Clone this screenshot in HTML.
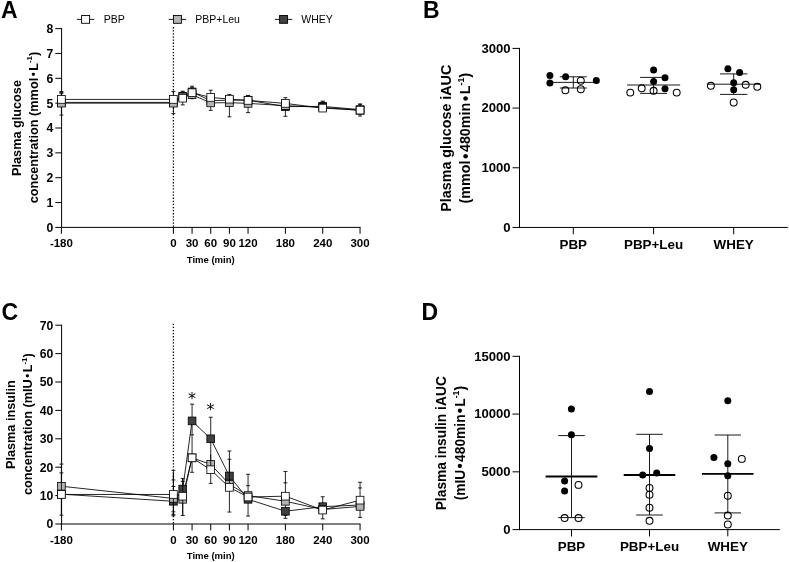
<!DOCTYPE html>
<html lang="en">
<head>
<meta charset="utf-8">
<title>Plasma glucose and insulin</title>
<style>
html,body{margin:0;padding:0;background:#fff;}
body{width:789px;height:562px;overflow:hidden;}
svg{display:block;font-family:"Liberation Sans", Arial, Helvetica, sans-serif;fill:#000;will-change:transform;}
</style>
</head>
<body>
<svg width="789" height="562" viewBox="0 0 789 562">
<rect x="0" y="0" width="789" height="562" fill="#fff"/>
<line x1="61.60" y1="28.10" x2="61.60" y2="227.90" stroke="#000" stroke-width="1.0" />
<line x1="61.10" y1="227.40" x2="360.56" y2="227.40" stroke="#000" stroke-width="1.0" />
<line x1="55.30" y1="227.40" x2="61.60" y2="227.40" stroke="#000" stroke-width="1.0" />
<text x="53.30" y="231.80" font-size="12.2" font-weight="bold" text-anchor="end" >0</text>
<line x1="55.30" y1="202.55" x2="61.60" y2="202.55" stroke="#000" stroke-width="1.0" />
<text x="53.30" y="206.95" font-size="12.2" font-weight="bold" text-anchor="end" >1</text>
<line x1="55.30" y1="177.70" x2="61.60" y2="177.70" stroke="#000" stroke-width="1.0" />
<text x="53.30" y="182.10" font-size="12.2" font-weight="bold" text-anchor="end" >2</text>
<line x1="55.30" y1="152.85" x2="61.60" y2="152.85" stroke="#000" stroke-width="1.0" />
<text x="53.30" y="157.25" font-size="12.2" font-weight="bold" text-anchor="end" >3</text>
<line x1="55.30" y1="128.00" x2="61.60" y2="128.00" stroke="#000" stroke-width="1.0" />
<text x="53.30" y="132.40" font-size="12.2" font-weight="bold" text-anchor="end" >4</text>
<line x1="55.30" y1="103.15" x2="61.60" y2="103.15" stroke="#000" stroke-width="1.0" />
<text x="53.30" y="107.55" font-size="12.2" font-weight="bold" text-anchor="end" >5</text>
<line x1="55.30" y1="78.30" x2="61.60" y2="78.30" stroke="#000" stroke-width="1.0" />
<text x="53.30" y="82.70" font-size="12.2" font-weight="bold" text-anchor="end" >6</text>
<line x1="55.30" y1="53.45" x2="61.60" y2="53.45" stroke="#000" stroke-width="1.0" />
<text x="53.30" y="57.85" font-size="12.2" font-weight="bold" text-anchor="end" >7</text>
<line x1="55.30" y1="28.60" x2="61.60" y2="28.60" stroke="#000" stroke-width="1.0" />
<text x="53.30" y="33.00" font-size="12.2" font-weight="bold" text-anchor="end" >8</text>
<line x1="61.40" y1="227.40" x2="61.40" y2="233.80" stroke="#000" stroke-width="1.0" />
<text x="61.40" y="247.00" font-size="11.5" font-weight="bold" text-anchor="middle" >-180</text>
<line x1="173.40" y1="227.40" x2="173.40" y2="233.80" stroke="#000" stroke-width="1.0" />
<text x="173.40" y="247.00" font-size="11.5" font-weight="bold" text-anchor="middle" >0</text>
<line x1="192.07" y1="227.40" x2="192.07" y2="233.80" stroke="#000" stroke-width="1.0" />
<text x="192.07" y="247.00" font-size="11.5" font-weight="bold" text-anchor="middle" >30</text>
<line x1="210.73" y1="227.40" x2="210.73" y2="233.80" stroke="#000" stroke-width="1.0" />
<text x="210.73" y="247.00" font-size="11.5" font-weight="bold" text-anchor="middle" >60</text>
<line x1="229.40" y1="227.40" x2="229.40" y2="233.80" stroke="#000" stroke-width="1.0" />
<text x="229.40" y="247.00" font-size="11.5" font-weight="bold" text-anchor="middle" >90</text>
<line x1="248.06" y1="227.40" x2="248.06" y2="233.80" stroke="#000" stroke-width="1.0" />
<text x="248.06" y="247.00" font-size="11.5" font-weight="bold" text-anchor="middle" >120</text>
<line x1="285.40" y1="227.40" x2="285.40" y2="233.80" stroke="#000" stroke-width="1.0" />
<text x="285.40" y="247.00" font-size="11.5" font-weight="bold" text-anchor="middle" >180</text>
<line x1="322.73" y1="227.40" x2="322.73" y2="233.80" stroke="#000" stroke-width="1.0" />
<text x="322.73" y="247.00" font-size="11.5" font-weight="bold" text-anchor="middle" >240</text>
<line x1="360.06" y1="227.40" x2="360.06" y2="233.80" stroke="#000" stroke-width="1.0" />
<text x="360.06" y="247.00" font-size="11.5" font-weight="bold" text-anchor="middle" >300</text>
<text x="210.70" y="262.50" font-size="9.5" font-weight="bold" text-anchor="middle" >Time (min)</text>
<line x1="173.40" y1="27.10" x2="173.40" y2="227.40" stroke="#000" stroke-width="1.3" stroke-dasharray="1.3 1.8"/>
<text transform="translate(21.00,128.00) rotate(-90)" font-size="12.7" font-weight="bold" text-anchor="middle">Plasma glucose</text>
<text transform="translate(37.60,127.50) rotate(-90)" font-size="12.7" font-weight="bold" text-anchor="middle">concentration (mmol<tspan font-size="11.43" dx="1.5" dy="-0.47">•</tspan><tspan dx="1.5" dy="0.47">L</tspan><tspan font-size="8" dy="-5.12">-1</tspan><tspan dy="5.12">)</tspan></text>
<line x1="61.40" y1="91.47" x2="61.40" y2="115.08" stroke="#000" stroke-width="0.85" />
<line x1="59.40" y1="115.08" x2="63.40" y2="115.08" stroke="#000" stroke-width="0.85" />
<line x1="59.40" y1="91.47" x2="63.40" y2="91.47" stroke="#000" stroke-width="0.85" />
<line x1="59.40" y1="92.46" x2="63.40" y2="92.46" stroke="#000" stroke-width="0.85" />
<line x1="59.40" y1="93.71" x2="63.40" y2="93.71" stroke="#000" stroke-width="0.85" />
<line x1="173.40" y1="91.47" x2="173.40" y2="113.59" stroke="#000" stroke-width="0.85" />
<line x1="171.40" y1="113.59" x2="175.40" y2="113.59" stroke="#000" stroke-width="0.85" />
<line x1="171.40" y1="91.47" x2="175.40" y2="91.47" stroke="#000" stroke-width="0.85" />
<line x1="182.73" y1="91.22" x2="182.73" y2="104.89" stroke="#000" stroke-width="0.85" />
<line x1="180.73" y1="104.89" x2="184.73" y2="104.89" stroke="#000" stroke-width="0.85" />
<line x1="180.73" y1="91.22" x2="184.73" y2="91.22" stroke="#000" stroke-width="0.85" />
<line x1="180.73" y1="91.97" x2="184.73" y2="91.97" stroke="#000" stroke-width="0.85" />
<line x1="192.07" y1="86.25" x2="192.07" y2="98.68" stroke="#000" stroke-width="0.85" />
<line x1="190.07" y1="98.68" x2="194.07" y2="98.68" stroke="#000" stroke-width="0.85" />
<line x1="190.07" y1="86.25" x2="194.07" y2="86.25" stroke="#000" stroke-width="0.85" />
<line x1="190.07" y1="87.74" x2="194.07" y2="87.74" stroke="#000" stroke-width="0.85" />
<line x1="210.73" y1="90.23" x2="210.73" y2="110.36" stroke="#000" stroke-width="0.85" />
<line x1="208.73" y1="110.36" x2="212.73" y2="110.36" stroke="#000" stroke-width="0.85" />
<line x1="208.73" y1="90.23" x2="212.73" y2="90.23" stroke="#000" stroke-width="0.85" />
<line x1="229.40" y1="94.45" x2="229.40" y2="116.82" stroke="#000" stroke-width="0.85" />
<line x1="227.40" y1="116.82" x2="231.40" y2="116.82" stroke="#000" stroke-width="0.85" />
<line x1="227.40" y1="94.45" x2="231.40" y2="94.45" stroke="#000" stroke-width="0.85" />
<line x1="248.06" y1="95.45" x2="248.06" y2="112.59" stroke="#000" stroke-width="0.85" />
<line x1="246.06" y1="112.59" x2="250.06" y2="112.59" stroke="#000" stroke-width="0.85" />
<line x1="246.06" y1="95.45" x2="250.06" y2="95.45" stroke="#000" stroke-width="0.85" />
<line x1="246.06" y1="95.94" x2="250.06" y2="95.94" stroke="#000" stroke-width="0.85" />
<line x1="285.40" y1="97.68" x2="285.40" y2="116.32" stroke="#000" stroke-width="0.85" />
<line x1="283.40" y1="116.32" x2="287.40" y2="116.32" stroke="#000" stroke-width="0.85" />
<line x1="283.40" y1="97.68" x2="287.40" y2="97.68" stroke="#000" stroke-width="0.85" />
<line x1="322.73" y1="101.16" x2="322.73" y2="109.36" stroke="#000" stroke-width="0.85" />
<line x1="320.73" y1="101.16" x2="324.73" y2="101.16" stroke="#000" stroke-width="0.85" />
<line x1="320.73" y1="101.91" x2="324.73" y2="101.91" stroke="#000" stroke-width="0.85" />
<line x1="360.06" y1="103.90" x2="360.06" y2="116.07" stroke="#000" stroke-width="0.85" />
<line x1="358.06" y1="116.07" x2="362.06" y2="116.07" stroke="#000" stroke-width="0.85" />
<line x1="358.06" y1="103.90" x2="362.06" y2="103.90" stroke="#000" stroke-width="0.85" />
<line x1="358.06" y1="104.64" x2="362.06" y2="104.64" stroke="#000" stroke-width="0.85" />
<polyline points="61.40,102.40 173.40,102.40 182.73,96.44 192.07,91.97 210.73,100.67 229.40,100.17 248.06,100.17 285.40,106.63 322.73,106.38 360.06,109.61" fill="none" stroke="#000" stroke-width="0.85"/>
<polyline points="61.40,103.15 173.40,103.15 182.73,96.94 192.07,94.70 210.73,102.90 229.40,102.65 248.06,103.40 285.40,105.63 322.73,107.37 360.06,110.36" fill="none" stroke="#000" stroke-width="0.85"/>
<polyline points="61.40,99.42 173.40,99.42 182.73,98.18 192.07,92.71 210.73,97.43 229.40,99.17 248.06,100.42 285.40,103.40 322.73,108.12 360.06,110.11" fill="none" stroke="#000" stroke-width="0.85"/>
<rect x="57.55" y="98.55" width="7.7" height="7.7" fill="#404040" stroke="#000" stroke-width="0.8"/>
<rect x="169.55" y="98.55" width="7.7" height="7.7" fill="#404040" stroke="#000" stroke-width="0.8"/>
<rect x="178.88" y="92.59" width="7.7" height="7.7" fill="#404040" stroke="#000" stroke-width="0.8"/>
<rect x="188.22" y="88.12" width="7.7" height="7.7" fill="#404040" stroke="#000" stroke-width="0.8"/>
<rect x="206.88" y="96.82" width="7.7" height="7.7" fill="#404040" stroke="#000" stroke-width="0.8"/>
<rect x="225.55" y="96.32" width="7.7" height="7.7" fill="#404040" stroke="#000" stroke-width="0.8"/>
<rect x="244.21" y="96.32" width="7.7" height="7.7" fill="#404040" stroke="#000" stroke-width="0.8"/>
<rect x="281.55" y="102.78" width="7.7" height="7.7" fill="#404040" stroke="#000" stroke-width="0.8"/>
<rect x="318.88" y="102.53" width="7.7" height="7.7" fill="#404040" stroke="#000" stroke-width="0.8"/>
<rect x="356.21" y="105.76" width="7.7" height="7.7" fill="#404040" stroke="#000" stroke-width="0.8"/>
<rect x="57.55" y="99.30" width="7.7" height="7.7" fill="#b4b4b4" stroke="#000" stroke-width="0.8"/>
<rect x="169.55" y="99.30" width="7.7" height="7.7" fill="#b4b4b4" stroke="#000" stroke-width="0.8"/>
<rect x="178.88" y="93.09" width="7.7" height="7.7" fill="#b4b4b4" stroke="#000" stroke-width="0.8"/>
<rect x="188.22" y="90.85" width="7.7" height="7.7" fill="#b4b4b4" stroke="#000" stroke-width="0.8"/>
<rect x="206.88" y="99.05" width="7.7" height="7.7" fill="#b4b4b4" stroke="#000" stroke-width="0.8"/>
<rect x="225.55" y="98.80" width="7.7" height="7.7" fill="#b4b4b4" stroke="#000" stroke-width="0.8"/>
<rect x="244.21" y="99.55" width="7.7" height="7.7" fill="#b4b4b4" stroke="#000" stroke-width="0.8"/>
<rect x="281.55" y="101.78" width="7.7" height="7.7" fill="#b4b4b4" stroke="#000" stroke-width="0.8"/>
<rect x="318.88" y="103.52" width="7.7" height="7.7" fill="#b4b4b4" stroke="#000" stroke-width="0.8"/>
<rect x="356.21" y="106.51" width="7.7" height="7.7" fill="#b4b4b4" stroke="#000" stroke-width="0.8"/>
<rect x="57.55" y="95.57" width="7.7" height="7.7" fill="#fff" stroke="#000" stroke-width="0.8"/>
<rect x="169.55" y="95.57" width="7.7" height="7.7" fill="#fff" stroke="#000" stroke-width="0.8"/>
<rect x="178.88" y="94.33" width="7.7" height="7.7" fill="#fff" stroke="#000" stroke-width="0.8"/>
<rect x="188.22" y="88.86" width="7.7" height="7.7" fill="#fff" stroke="#000" stroke-width="0.8"/>
<rect x="206.88" y="93.58" width="7.7" height="7.7" fill="#fff" stroke="#000" stroke-width="0.8"/>
<rect x="225.55" y="95.32" width="7.7" height="7.7" fill="#fff" stroke="#000" stroke-width="0.8"/>
<rect x="244.21" y="96.57" width="7.7" height="7.7" fill="#fff" stroke="#000" stroke-width="0.8"/>
<rect x="281.55" y="99.55" width="7.7" height="7.7" fill="#fff" stroke="#000" stroke-width="0.8"/>
<rect x="318.88" y="104.27" width="7.7" height="7.7" fill="#fff" stroke="#000" stroke-width="0.8"/>
<rect x="356.21" y="106.26" width="7.7" height="7.7" fill="#fff" stroke="#000" stroke-width="0.8"/>
<text x="1.00" y="18.10" font-size="23" font-weight="bold" text-anchor="start" >A</text>
<line x1="76.90" y1="19.40" x2="94.30" y2="19.40" stroke="#000" stroke-width="0.9" />
<rect x="81.60" y="15.50" width="8.0" height="7.8" fill="#fff" stroke="#000" stroke-width="0.9"/>
<text x="103.80" y="22.90" font-size="10.5" font-weight="normal" text-anchor="start" >PBP</text>
<line x1="168.70" y1="19.40" x2="186.10" y2="19.40" stroke="#000" stroke-width="0.9" />
<rect x="173.40" y="15.50" width="8.0" height="7.8" fill="#b4b4b4" stroke="#000" stroke-width="0.9"/>
<text x="195.30" y="22.90" font-size="10.5" font-weight="normal" text-anchor="start" >PBP+Leu</text>
<line x1="274.90" y1="19.40" x2="292.30" y2="19.40" stroke="#000" stroke-width="0.9" />
<rect x="279.60" y="15.50" width="8.0" height="7.8" fill="#404040" stroke="#000" stroke-width="0.9"/>
<text x="301.30" y="22.90" font-size="10.5" font-weight="normal" text-anchor="start" >WHEY</text>
<line x1="61.60" y1="324.70" x2="61.60" y2="524.50" stroke="#000" stroke-width="1.0" />
<line x1="61.10" y1="524.00" x2="360.56" y2="524.00" stroke="#000" stroke-width="1.0" />
<line x1="55.30" y1="524.00" x2="61.60" y2="524.00" stroke="#000" stroke-width="1.0" />
<text x="53.30" y="528.40" font-size="12.2" font-weight="bold" text-anchor="end" >0</text>
<line x1="55.30" y1="495.60" x2="61.60" y2="495.60" stroke="#000" stroke-width="1.0" />
<text x="53.30" y="500.00" font-size="12.2" font-weight="bold" text-anchor="end" >10</text>
<line x1="55.30" y1="467.20" x2="61.60" y2="467.20" stroke="#000" stroke-width="1.0" />
<text x="53.30" y="471.60" font-size="12.2" font-weight="bold" text-anchor="end" >20</text>
<line x1="55.30" y1="438.80" x2="61.60" y2="438.80" stroke="#000" stroke-width="1.0" />
<text x="53.30" y="443.20" font-size="12.2" font-weight="bold" text-anchor="end" >30</text>
<line x1="55.30" y1="410.40" x2="61.60" y2="410.40" stroke="#000" stroke-width="1.0" />
<text x="53.30" y="414.80" font-size="12.2" font-weight="bold" text-anchor="end" >40</text>
<line x1="55.30" y1="382.00" x2="61.60" y2="382.00" stroke="#000" stroke-width="1.0" />
<text x="53.30" y="386.40" font-size="12.2" font-weight="bold" text-anchor="end" >50</text>
<line x1="55.30" y1="353.60" x2="61.60" y2="353.60" stroke="#000" stroke-width="1.0" />
<text x="53.30" y="358.00" font-size="12.2" font-weight="bold" text-anchor="end" >60</text>
<line x1="55.30" y1="325.20" x2="61.60" y2="325.20" stroke="#000" stroke-width="1.0" />
<text x="53.30" y="329.60" font-size="12.2" font-weight="bold" text-anchor="end" >70</text>
<line x1="61.40" y1="524.00" x2="61.40" y2="530.40" stroke="#000" stroke-width="1.0" />
<text x="61.40" y="544.00" font-size="11.5" font-weight="bold" text-anchor="middle" >-180</text>
<line x1="173.40" y1="524.00" x2="173.40" y2="530.40" stroke="#000" stroke-width="1.0" />
<text x="173.40" y="544.00" font-size="11.5" font-weight="bold" text-anchor="middle" >0</text>
<line x1="192.07" y1="524.00" x2="192.07" y2="530.40" stroke="#000" stroke-width="1.0" />
<text x="192.07" y="544.00" font-size="11.5" font-weight="bold" text-anchor="middle" >30</text>
<line x1="210.73" y1="524.00" x2="210.73" y2="530.40" stroke="#000" stroke-width="1.0" />
<text x="210.73" y="544.00" font-size="11.5" font-weight="bold" text-anchor="middle" >60</text>
<line x1="229.40" y1="524.00" x2="229.40" y2="530.40" stroke="#000" stroke-width="1.0" />
<text x="229.40" y="544.00" font-size="11.5" font-weight="bold" text-anchor="middle" >90</text>
<line x1="248.06" y1="524.00" x2="248.06" y2="530.40" stroke="#000" stroke-width="1.0" />
<text x="248.06" y="544.00" font-size="11.5" font-weight="bold" text-anchor="middle" >120</text>
<line x1="285.40" y1="524.00" x2="285.40" y2="530.40" stroke="#000" stroke-width="1.0" />
<text x="285.40" y="544.00" font-size="11.5" font-weight="bold" text-anchor="middle" >180</text>
<line x1="322.73" y1="524.00" x2="322.73" y2="530.40" stroke="#000" stroke-width="1.0" />
<text x="322.73" y="544.00" font-size="11.5" font-weight="bold" text-anchor="middle" >240</text>
<line x1="360.06" y1="524.00" x2="360.06" y2="530.40" stroke="#000" stroke-width="1.0" />
<text x="360.06" y="544.00" font-size="11.5" font-weight="bold" text-anchor="middle" >300</text>
<text x="210.70" y="559.10" font-size="9.5" font-weight="bold" text-anchor="middle" >Time (min)</text>
<line x1="173.40" y1="323.70" x2="173.40" y2="524.00" stroke="#000" stroke-width="1.3" stroke-dasharray="1.3 1.8"/>
<text transform="translate(15.10,424.60) rotate(-90)" font-size="12.7" font-weight="bold" text-anchor="middle">Plasma insulin</text>
<text transform="translate(31.70,424.10) rotate(-90)" font-size="12.7" font-weight="bold" text-anchor="middle">concentration (mIU<tspan font-size="11.43" dx="1.5" dy="-0.47">•</tspan><tspan dx="1.5" dy="0.47">L</tspan><tspan font-size="8" dy="-5.12">-1</tspan><tspan dy="5.12">)</tspan></text>
<line x1="61.40" y1="464.08" x2="61.40" y2="515.20" stroke="#000" stroke-width="0.85" />
<line x1="59.40" y1="515.20" x2="63.40" y2="515.20" stroke="#000" stroke-width="0.85" />
<line x1="59.40" y1="464.08" x2="63.40" y2="464.08" stroke="#000" stroke-width="0.85" />
<line x1="59.40" y1="472.88" x2="63.40" y2="472.88" stroke="#000" stroke-width="0.85" />
<line x1="173.40" y1="470.32" x2="173.40" y2="515.76" stroke="#000" stroke-width="0.85" />
<line x1="171.40" y1="515.76" x2="175.40" y2="515.76" stroke="#000" stroke-width="0.85" />
<line x1="171.40" y1="470.32" x2="175.40" y2="470.32" stroke="#000" stroke-width="0.85" />
<line x1="171.40" y1="479.98" x2="175.40" y2="479.98" stroke="#000" stroke-width="0.85" />
<line x1="171.40" y1="486.51" x2="175.40" y2="486.51" stroke="#000" stroke-width="0.85" />
<line x1="171.40" y1="511.79" x2="175.40" y2="511.79" stroke="#000" stroke-width="0.85" />
<line x1="171.40" y1="514.34" x2="175.40" y2="514.34" stroke="#000" stroke-width="0.85" />
<line x1="182.73" y1="478.56" x2="182.73" y2="515.48" stroke="#000" stroke-width="0.85" />
<line x1="180.73" y1="515.48" x2="184.73" y2="515.48" stroke="#000" stroke-width="0.85" />
<line x1="180.73" y1="478.56" x2="184.73" y2="478.56" stroke="#000" stroke-width="0.85" />
<line x1="180.73" y1="481.40" x2="184.73" y2="481.40" stroke="#000" stroke-width="0.85" />
<line x1="192.07" y1="404.15" x2="192.07" y2="472.31" stroke="#000" stroke-width="0.85" />
<line x1="190.07" y1="472.31" x2="194.07" y2="472.31" stroke="#000" stroke-width="0.85" />
<line x1="190.07" y1="404.15" x2="194.07" y2="404.15" stroke="#000" stroke-width="0.85" />
<line x1="190.07" y1="434.82" x2="194.07" y2="434.82" stroke="#000" stroke-width="0.85" />
<line x1="210.73" y1="417.22" x2="210.73" y2="483.39" stroke="#000" stroke-width="0.85" />
<line x1="208.73" y1="483.39" x2="212.73" y2="483.39" stroke="#000" stroke-width="0.85" />
<line x1="208.73" y1="417.22" x2="212.73" y2="417.22" stroke="#000" stroke-width="0.85" />
<line x1="229.40" y1="451.01" x2="229.40" y2="512.07" stroke="#000" stroke-width="0.85" />
<line x1="227.40" y1="512.07" x2="231.40" y2="512.07" stroke="#000" stroke-width="0.85" />
<line x1="227.40" y1="451.01" x2="231.40" y2="451.01" stroke="#000" stroke-width="0.85" />
<line x1="227.40" y1="459.25" x2="231.40" y2="459.25" stroke="#000" stroke-width="0.85" />
<line x1="248.06" y1="474.30" x2="248.06" y2="516.05" stroke="#000" stroke-width="0.85" />
<line x1="246.06" y1="516.05" x2="250.06" y2="516.05" stroke="#000" stroke-width="0.85" />
<line x1="246.06" y1="474.30" x2="250.06" y2="474.30" stroke="#000" stroke-width="0.85" />
<line x1="246.06" y1="485.66" x2="250.06" y2="485.66" stroke="#000" stroke-width="0.85" />
<line x1="285.40" y1="471.46" x2="285.40" y2="518.32" stroke="#000" stroke-width="0.85" />
<line x1="283.40" y1="518.32" x2="287.40" y2="518.32" stroke="#000" stroke-width="0.85" />
<line x1="283.40" y1="471.46" x2="287.40" y2="471.46" stroke="#000" stroke-width="0.85" />
<line x1="283.40" y1="482.82" x2="287.40" y2="482.82" stroke="#000" stroke-width="0.85" />
<line x1="283.40" y1="515.48" x2="287.40" y2="515.48" stroke="#000" stroke-width="0.85" />
<line x1="322.73" y1="496.74" x2="322.73" y2="518.89" stroke="#000" stroke-width="0.85" />
<line x1="320.73" y1="518.89" x2="324.73" y2="518.89" stroke="#000" stroke-width="0.85" />
<line x1="320.73" y1="496.74" x2="324.73" y2="496.74" stroke="#000" stroke-width="0.85" />
<line x1="360.06" y1="482.25" x2="360.06" y2="517.47" stroke="#000" stroke-width="0.85" />
<line x1="358.06" y1="517.47" x2="362.06" y2="517.47" stroke="#000" stroke-width="0.85" />
<line x1="358.06" y1="482.25" x2="362.06" y2="482.25" stroke="#000" stroke-width="0.85" />
<line x1="358.06" y1="487.93" x2="362.06" y2="487.93" stroke="#000" stroke-width="0.85" />
<polyline points="61.40,494.18 173.40,501.28 182.73,489.07 192.07,420.91 210.73,438.80 229.40,476.00 248.06,499.29 285.40,511.22 322.73,506.68 360.06,504.97" fill="none" stroke="#000" stroke-width="0.85"/>
<polyline points="61.40,486.23 173.40,498.44 182.73,499.29 192.07,457.83 210.73,464.36 229.40,484.24 248.06,495.60 285.40,501.28 322.73,509.52 360.06,506.39" fill="none" stroke="#000" stroke-width="0.85"/>
<polyline points="61.40,494.46 173.40,494.46 182.73,496.17 192.07,457.83 210.73,469.76 229.40,487.36 248.06,497.02 285.40,496.17 322.73,510.08 360.06,500.14" fill="none" stroke="#000" stroke-width="0.85"/>
<rect x="57.55" y="490.33" width="7.7" height="7.7" fill="#404040" stroke="#000" stroke-width="0.8"/>
<rect x="169.55" y="497.43" width="7.7" height="7.7" fill="#404040" stroke="#000" stroke-width="0.8"/>
<rect x="178.88" y="485.22" width="7.7" height="7.7" fill="#404040" stroke="#000" stroke-width="0.8"/>
<rect x="188.22" y="417.06" width="7.7" height="7.7" fill="#404040" stroke="#000" stroke-width="0.8"/>
<rect x="206.88" y="434.95" width="7.7" height="7.7" fill="#404040" stroke="#000" stroke-width="0.8"/>
<rect x="225.55" y="472.15" width="7.7" height="7.7" fill="#404040" stroke="#000" stroke-width="0.8"/>
<rect x="244.21" y="495.44" width="7.7" height="7.7" fill="#404040" stroke="#000" stroke-width="0.8"/>
<rect x="281.55" y="507.37" width="7.7" height="7.7" fill="#404040" stroke="#000" stroke-width="0.8"/>
<rect x="318.88" y="502.83" width="7.7" height="7.7" fill="#404040" stroke="#000" stroke-width="0.8"/>
<rect x="356.21" y="501.12" width="7.7" height="7.7" fill="#404040" stroke="#000" stroke-width="0.8"/>
<rect x="57.55" y="482.38" width="7.7" height="7.7" fill="#b4b4b4" stroke="#000" stroke-width="0.8"/>
<rect x="169.55" y="494.59" width="7.7" height="7.7" fill="#b4b4b4" stroke="#000" stroke-width="0.8"/>
<rect x="178.88" y="495.44" width="7.7" height="7.7" fill="#b4b4b4" stroke="#000" stroke-width="0.8"/>
<rect x="188.22" y="453.98" width="7.7" height="7.7" fill="#b4b4b4" stroke="#000" stroke-width="0.8"/>
<rect x="206.88" y="460.51" width="7.7" height="7.7" fill="#b4b4b4" stroke="#000" stroke-width="0.8"/>
<rect x="225.55" y="480.39" width="7.7" height="7.7" fill="#b4b4b4" stroke="#000" stroke-width="0.8"/>
<rect x="244.21" y="491.75" width="7.7" height="7.7" fill="#b4b4b4" stroke="#000" stroke-width="0.8"/>
<rect x="281.55" y="497.43" width="7.7" height="7.7" fill="#b4b4b4" stroke="#000" stroke-width="0.8"/>
<rect x="318.88" y="505.67" width="7.7" height="7.7" fill="#b4b4b4" stroke="#000" stroke-width="0.8"/>
<rect x="356.21" y="502.54" width="7.7" height="7.7" fill="#b4b4b4" stroke="#000" stroke-width="0.8"/>
<line x1="61.40" y1="472.88" x2="61.40" y2="515.20" stroke="#000" stroke-width="0.85" />
<line x1="173.40" y1="472.88" x2="173.40" y2="515.76" stroke="#000" stroke-width="0.85" />
<line x1="182.73" y1="478.56" x2="182.73" y2="515.48" stroke="#000" stroke-width="0.85" />
<line x1="210.73" y1="454.42" x2="210.73" y2="468.90" stroke="#000" stroke-width="0.85" />
<line x1="229.40" y1="459.25" x2="229.40" y2="487.08" stroke="#000" stroke-width="0.85" />
<rect x="57.55" y="490.61" width="7.7" height="7.7" fill="#fff" stroke="#000" stroke-width="0.8"/>
<rect x="169.55" y="490.61" width="7.7" height="7.7" fill="#fff" stroke="#000" stroke-width="0.8"/>
<rect x="178.88" y="492.32" width="7.7" height="7.7" fill="#fff" stroke="#000" stroke-width="0.8"/>
<rect x="188.22" y="453.98" width="7.7" height="7.7" fill="#fff" stroke="#000" stroke-width="0.8"/>
<rect x="206.88" y="465.91" width="7.7" height="7.7" fill="#fff" stroke="#000" stroke-width="0.8"/>
<rect x="225.55" y="483.51" width="7.7" height="7.7" fill="#fff" stroke="#000" stroke-width="0.8"/>
<rect x="244.21" y="493.17" width="7.7" height="7.7" fill="#fff" stroke="#000" stroke-width="0.8"/>
<rect x="281.55" y="492.32" width="7.7" height="7.7" fill="#fff" stroke="#000" stroke-width="0.8"/>
<rect x="318.88" y="506.23" width="7.7" height="7.7" fill="#fff" stroke="#000" stroke-width="0.8"/>
<rect x="356.21" y="496.29" width="7.7" height="7.7" fill="#fff" stroke="#000" stroke-width="0.8"/>
<text x="1.60" y="319.90" font-size="23" font-weight="bold" text-anchor="start" >C</text>
<text x="192.0" y="403.8" font-size="16" text-anchor="middle" font-family="DejaVu Sans, sans-serif">*</text>
<text x="210.6" y="415.2" font-size="16" text-anchor="middle" font-family="DejaVu Sans, sans-serif">*</text>
<line x1="519.50" y1="47.90" x2="519.50" y2="227.95" stroke="#000" stroke-width="1.0" />
<line x1="519.00" y1="227.45" x2="787.80" y2="227.45" stroke="#000" stroke-width="1.0" />
<line x1="512.50" y1="227.45" x2="519.50" y2="227.45" stroke="#000" stroke-width="1.0" />
<text x="510.60" y="231.75" font-size="13.1" font-weight="bold" text-anchor="end" >0</text>
<line x1="512.50" y1="167.77" x2="519.50" y2="167.77" stroke="#000" stroke-width="1.0" />
<text x="510.60" y="172.07" font-size="13.1" font-weight="bold" text-anchor="end" >1000</text>
<line x1="512.50" y1="108.08" x2="519.50" y2="108.08" stroke="#000" stroke-width="1.0" />
<text x="510.60" y="112.38" font-size="13.1" font-weight="bold" text-anchor="end" >2000</text>
<line x1="512.50" y1="48.40" x2="519.50" y2="48.40" stroke="#000" stroke-width="1.0" />
<text x="510.60" y="52.70" font-size="13.1" font-weight="bold" text-anchor="end" >3000</text>
<text transform="translate(451.30,138.22) rotate(-90)" font-size="14.3" font-weight="bold" text-anchor="middle">Plasma glucose iAUC</text>
<text transform="translate(470.00,138.12) rotate(-90)" font-size="14.3" font-weight="bold" text-anchor="middle">(mmol<tspan font-size="15.73" dx="1.5" dy="0.53">•</tspan><tspan dx="1.5" dy="-0.53">4</tspan>80min<tspan font-size="15.73" dx="1.5" dy="0.53">•</tspan><tspan dx="1.5" dy="-0.53">L</tspan><tspan font-size="9" dy="-5.76">-1</tspan><tspan dy="5.76">)</tspan></text>
<line x1="573.30" y1="227.45" x2="573.30" y2="234.25" stroke="#000" stroke-width="1.0" />
<text x="573.30" y="249.00" font-size="13.4" font-weight="bold" text-anchor="middle" >PBP</text>
<line x1="573.30" y1="76.80" x2="573.30" y2="88.00" stroke="#000" stroke-width="0.9" />
<line x1="559.80" y1="76.80" x2="586.80" y2="76.80" stroke="#000" stroke-width="0.9" />
<line x1="559.80" y1="88.00" x2="586.80" y2="88.00" stroke="#000" stroke-width="0.9" />
<line x1="547.30" y1="82.40" x2="599.30" y2="82.40" stroke="#000" stroke-width="0.9" />
<circle cx="565.40" cy="90.30" r="3.45" fill="none" stroke="#000" stroke-width="1.05"/>
<circle cx="580.80" cy="80.70" r="3.45" fill="none" stroke="#000" stroke-width="1.05"/>
<circle cx="580.80" cy="89.20" r="3.45" fill="none" stroke="#000" stroke-width="1.05"/>
<circle cx="549.90" cy="75.50" r="3.5" fill="#000"/>
<circle cx="549.90" cy="83.10" r="3.5" fill="#000"/>
<circle cx="565.60" cy="76.80" r="3.5" fill="#000"/>
<circle cx="596.30" cy="80.60" r="3.5" fill="#000"/>
<line x1="653.60" y1="227.45" x2="653.60" y2="234.25" stroke="#000" stroke-width="1.0" />
<text x="653.60" y="249.00" font-size="13.4" font-weight="bold" text-anchor="middle" >PBP+Leu</text>
<line x1="653.60" y1="77.40" x2="653.60" y2="93.40" stroke="#000" stroke-width="0.9" />
<line x1="640.10" y1="77.40" x2="667.10" y2="77.40" stroke="#000" stroke-width="0.9" />
<line x1="640.10" y1="93.40" x2="667.10" y2="93.40" stroke="#000" stroke-width="0.9" />
<line x1="627.00" y1="85.00" x2="680.20" y2="85.00" stroke="#000" stroke-width="0.9" />
<circle cx="630.30" cy="92.60" r="3.45" fill="none" stroke="#000" stroke-width="1.05"/>
<circle cx="641.70" cy="88.30" r="3.45" fill="none" stroke="#000" stroke-width="1.05"/>
<circle cx="653.60" cy="90.80" r="3.45" fill="none" stroke="#000" stroke-width="1.05"/>
<circle cx="676.70" cy="92.60" r="3.45" fill="none" stroke="#000" stroke-width="1.05"/>
<circle cx="653.60" cy="70.10" r="3.5" fill="#000"/>
<circle cx="665.00" cy="77.70" r="3.5" fill="#000"/>
<circle cx="653.60" cy="81.50" r="3.5" fill="#000"/>
<circle cx="665.00" cy="88.80" r="3.5" fill="#000"/>
<line x1="733.70" y1="227.45" x2="733.70" y2="234.25" stroke="#000" stroke-width="1.0" />
<text x="733.70" y="249.00" font-size="13.4" font-weight="bold" text-anchor="middle" >WHEY</text>
<line x1="733.70" y1="73.90" x2="733.70" y2="94.40" stroke="#000" stroke-width="0.9" />
<line x1="720.00" y1="73.90" x2="747.40" y2="73.90" stroke="#000" stroke-width="0.9" />
<line x1="720.00" y1="94.40" x2="747.40" y2="94.40" stroke="#000" stroke-width="0.9" />
<line x1="706.80" y1="84.20" x2="760.60" y2="84.20" stroke="#000" stroke-width="0.9" />
<circle cx="710.90" cy="85.80" r="3.45" fill="none" stroke="#000" stroke-width="1.05"/>
<circle cx="745.70" cy="84.80" r="3.45" fill="none" stroke="#000" stroke-width="1.05"/>
<circle cx="757.30" cy="86.80" r="3.45" fill="none" stroke="#000" stroke-width="1.05"/>
<circle cx="733.70" cy="102.50" r="3.45" fill="none" stroke="#000" stroke-width="1.05"/>
<circle cx="727.90" cy="68.80" r="3.5" fill="#000"/>
<circle cx="739.60" cy="72.60" r="3.5" fill="#000"/>
<circle cx="733.70" cy="82.70" r="3.5" fill="#000"/>
<circle cx="733.70" cy="89.80" r="3.5" fill="#000"/>
<text x="422.90" y="17.60" font-size="23" font-weight="bold" text-anchor="start" >B</text>
<line x1="519.50" y1="355.80" x2="519.50" y2="530.10" stroke="#000" stroke-width="1.0" />
<line x1="519.00" y1="529.60" x2="779.80" y2="529.60" stroke="#000" stroke-width="1.0" />
<line x1="512.50" y1="529.60" x2="519.50" y2="529.60" stroke="#000" stroke-width="1.0" />
<text x="510.60" y="533.90" font-size="13.1" font-weight="bold" text-anchor="end" >0</text>
<line x1="512.50" y1="471.83" x2="519.50" y2="471.83" stroke="#000" stroke-width="1.0" />
<text x="510.60" y="476.13" font-size="13.1" font-weight="bold" text-anchor="end" >5000</text>
<line x1="512.50" y1="414.07" x2="519.50" y2="414.07" stroke="#000" stroke-width="1.0" />
<text x="510.60" y="418.37" font-size="13.1" font-weight="bold" text-anchor="end" >10000</text>
<line x1="512.50" y1="356.30" x2="519.50" y2="356.30" stroke="#000" stroke-width="1.0" />
<text x="510.60" y="360.60" font-size="13.1" font-weight="bold" text-anchor="end" >15000</text>
<text transform="translate(446.00,443.25) rotate(-90)" font-size="13.8" font-weight="bold" text-anchor="middle">Plasma insulin iAUC</text>
<text transform="translate(464.50,443.15) rotate(-90)" font-size="13.8" font-weight="bold" text-anchor="middle">(mIU<tspan font-size="15.18" dx="1.2" dy="0.51">•</tspan><tspan dx="1.2" dy="-0.51">4</tspan>80min<tspan font-size="15.18" dx="1.2" dy="0.51">•</tspan><tspan dx="1.2" dy="-0.51">L</tspan><tspan font-size="8.7" dy="-5.57">-1</tspan><tspan dy="5.57">)</tspan></text>
<line x1="571.50" y1="529.60" x2="571.50" y2="536.40" stroke="#000" stroke-width="1.0" />
<text x="571.50" y="550.80" font-size="13.4" font-weight="bold" text-anchor="middle" >PBP</text>
<line x1="571.50" y1="435.60" x2="571.50" y2="517.60" stroke="#000" stroke-width="0.9" />
<line x1="558.20" y1="435.60" x2="584.80" y2="435.60" stroke="#000" stroke-width="0.9" />
<line x1="558.20" y1="517.60" x2="584.80" y2="517.60" stroke="#000" stroke-width="0.9" />
<line x1="545.60" y1="476.50" x2="597.40" y2="476.50" stroke="#000" stroke-width="1.9" />
<circle cx="578.50" cy="484.90" r="3.45" fill="none" stroke="#000" stroke-width="1.05"/>
<circle cx="564.60" cy="518.10" r="3.45" fill="none" stroke="#000" stroke-width="1.05"/>
<circle cx="578.50" cy="518.10" r="3.45" fill="none" stroke="#000" stroke-width="1.05"/>
<circle cx="571.40" cy="408.90" r="3.5" fill="#000"/>
<circle cx="571.40" cy="434.80" r="3.5" fill="#000"/>
<circle cx="564.60" cy="481.10" r="3.5" fill="#000"/>
<circle cx="564.60" cy="491.00" r="3.5" fill="#000"/>
<line x1="649.50" y1="529.60" x2="649.50" y2="536.40" stroke="#000" stroke-width="1.0" />
<text x="649.50" y="550.80" font-size="13.4" font-weight="bold" text-anchor="middle" >PBP+Leu</text>
<line x1="649.50" y1="434.30" x2="649.50" y2="515.00" stroke="#000" stroke-width="0.9" />
<line x1="636.20" y1="434.30" x2="662.80" y2="434.30" stroke="#000" stroke-width="0.9" />
<line x1="636.20" y1="515.00" x2="662.80" y2="515.00" stroke="#000" stroke-width="0.9" />
<line x1="623.70" y1="475.00" x2="675.30" y2="475.00" stroke="#000" stroke-width="1.9" />
<circle cx="649.50" cy="488.00" r="3.45" fill="none" stroke="#000" stroke-width="1.05"/>
<circle cx="649.50" cy="494.80" r="3.45" fill="none" stroke="#000" stroke-width="1.05"/>
<circle cx="649.50" cy="507.80" r="3.45" fill="none" stroke="#000" stroke-width="1.05"/>
<circle cx="649.50" cy="520.80" r="3.45" fill="none" stroke="#000" stroke-width="1.05"/>
<circle cx="649.50" cy="391.50" r="3.5" fill="#000"/>
<circle cx="649.50" cy="448.60" r="3.5" fill="#000"/>
<circle cx="642.70" cy="475.00" r="3.5" fill="#000"/>
<circle cx="656.70" cy="472.90" r="3.5" fill="#000"/>
<line x1="727.80" y1="529.60" x2="727.80" y2="536.40" stroke="#000" stroke-width="1.0" />
<text x="727.80" y="550.80" font-size="13.4" font-weight="bold" text-anchor="middle" >WHEY</text>
<line x1="727.80" y1="435.00" x2="727.80" y2="512.90" stroke="#000" stroke-width="0.9" />
<line x1="714.60" y1="435.00" x2="741.00" y2="435.00" stroke="#000" stroke-width="0.9" />
<line x1="714.60" y1="512.90" x2="741.00" y2="512.90" stroke="#000" stroke-width="0.9" />
<line x1="702.00" y1="473.90" x2="753.60" y2="473.90" stroke="#000" stroke-width="1.9" />
<circle cx="741.80" cy="458.90" r="3.45" fill="none" stroke="#000" stroke-width="1.05"/>
<circle cx="727.80" cy="495.80" r="3.45" fill="none" stroke="#000" stroke-width="1.05"/>
<circle cx="727.80" cy="515.60" r="3.45" fill="none" stroke="#000" stroke-width="1.05"/>
<circle cx="727.80" cy="524.50" r="3.45" fill="none" stroke="#000" stroke-width="1.05"/>
<circle cx="727.80" cy="400.80" r="3.5" fill="#000"/>
<circle cx="713.90" cy="457.40" r="3.5" fill="#000"/>
<circle cx="727.80" cy="463.70" r="3.5" fill="#000"/>
<circle cx="727.80" cy="475.80" r="3.5" fill="#000"/>
<text x="421.50" y="319.70" font-size="23" font-weight="bold" text-anchor="start" >D</text>
</svg>
</body>
</html>
